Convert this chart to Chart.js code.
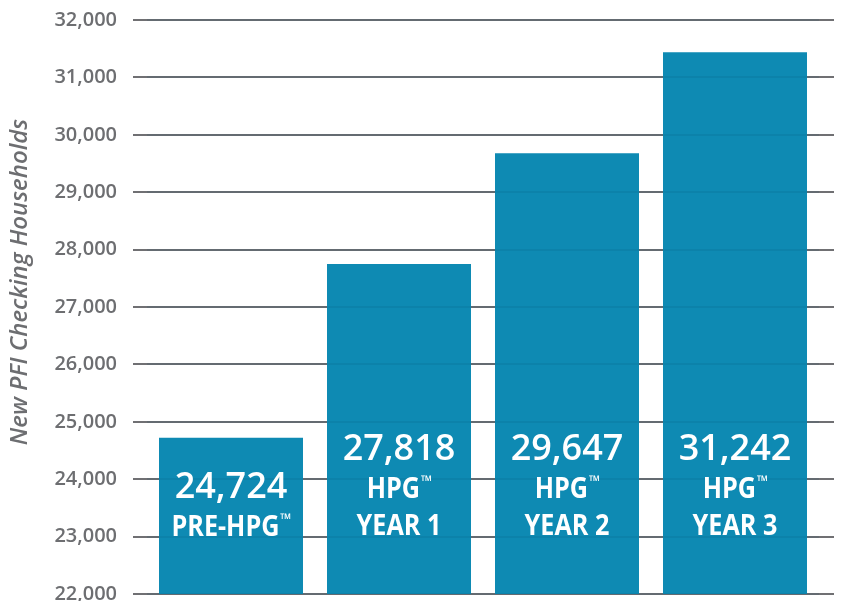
<!DOCTYPE html>
<html>
<head>
<meta charset="utf-8">
<script src="https://cdn.jsdelivr.net/npm/chart.js@4"></script>
<style>
  html, body { margin: 0; padding: 0; background: #fff; }
  #wrap { width: 841px; height: 601px; }
</style>
</head>
<body>
<div id="wrap"><canvas id="c" width="841" height="601"></canvas></div>
<script>
const categories = ['PRE-HPG™', 'HPG™ YEAR 1', 'HPG™ YEAR 2', 'HPG™ YEAR 3'];
const barValues = [24724, 27750, 29680, 31440];
const valueLabels = ['24,724', '27,818', '29,647', '31,242'];
const subLabels = [['PRE-HPG™'], ['HPG™', 'YEAR 1'], ['HPG™', 'YEAR 2'], ['HPG™', 'YEAR 3']];
const yMin = 22000, yMax = 32000, yStep = 1000;
const axisTitle = 'New PFI Checking Households';

const GRID = '#707073';
const TEXT = '#6d6e71';
const BAR = '#0e8ab3';

const gridPlugin = {
  id: 'gridExt',
  beforeDatasetsDraw(chart) {
    const { ctx, chartArea, scales: { y } } = chart;
    ctx.save();
    ctx.strokeStyle = GRID;
    ctx.lineWidth = 2;
    y.ticks.forEach(t => {
      const py = Math.round(y.getPixelForValue(t.value));
      ctx.beginPath();
      ctx.moveTo(chartArea.left - 14, py);
      ctx.lineTo(chartArea.right + 15, py);
      ctx.stroke();
    });
    ctx.restore();
  },
  afterDatasetsDraw(chart) {
    const { ctx, chartArea, scales: { y } } = chart;
    ctx.save();
    ctx.strokeStyle = 'rgba(0,70,100,0.10)';
    ctx.lineWidth = 2;
    y.ticks.forEach(t => {
      const py = Math.round(y.getPixelForValue(t.value));
      ctx.beginPath();
      ctx.moveTo(chartArea.left, py);
      ctx.lineTo(chartArea.right, py);
      ctx.stroke();
    });
    // labels inside bars
    const meta = chart.getDatasetMeta(0);
    ctx.fillStyle = '#ffffff';
    ctx.textAlign = 'center';
    ctx.textBaseline = 'middle';
    meta.data.forEach((bar, i) => {
      const x = bar.x;
      const bottom = chartArea.bottom;
      const single = subLabels[i].length === 1;
      const numY = single ? bottom - 106 : bottom - 144;
      ctx.font = '600 36px "Open Sans"';
      ctx.fillText(valueLabels[i], x, numY);
      subLabels[i].forEach((s, k) => {
        const ly = numY + 40 + k * 37;
        ctx.save();
        ctx.translate(x, ly);
        ctx.scale(0.9, 1);
        ctx.font = '700 28px "Open Sans"';
        drawTM(ctx, s);
        ctx.restore();
      });
    });
    ctx.restore();
  },
  afterDraw(chart) {
    const { ctx } = chart;
    ctx.save();
    ctx.fillStyle = TEXT;
    ctx.font = 'italic 600 24px "Open Sans"';
    ctx.textAlign = 'center';
    ctx.textBaseline = 'middle';
    ctx.translate(20, 282);
    ctx.rotate(-Math.PI / 2);
    ctx.fillText(axisTitle, 0, 0);
    ctx.restore();
  }
};

function drawTM(ctx, s) {
  // draw text with a smaller superscript ™
  const idx = s.indexOf('™');
  if (idx < 0) { ctx.fillText(s, 0, 0); return; }
  const main = s.slice(0, idx);
  const mainFont = ctx.font;
  const tmFont = '700 16px "Open Sans"';
  const wMain = ctx.measureText(main).width;
  ctx.font = tmFont;
  const wTm = ctx.measureText('™').width;
  const total = wMain + wTm;
  ctx.font = mainFont;
  ctx.textAlign = 'left';
  ctx.fillText(main, -total / 2, 0);
  ctx.font = tmFont;
  ctx.fillText('™', -total / 2 + wMain + 1, -8);
  ctx.font = mainFont;
  ctx.textAlign = 'center';
}

new Chart(document.getElementById('c'), {
  type: 'bar',
  data: {
    labels: categories,
    datasets: [{
      data: barValues,
      backgroundColor: BAR,
      borderWidth: 0,
      categoryPercentage: 1,
      barPercentage: 144 / 168
    }]
  },
  options: {
    responsive: false,
    animation: false,
    events: [],
    layout: { padding: { top: 20, bottom: 7, left: 0, right: 22 } },
    plugins: { legend: { display: false }, tooltip: { enabled: false } },
    scales: {
      x: { display: false },
      y: {
        min: yMin, max: yMax,
        border: { display: false },
        grid: { display: false, drawTicks: false },
        ticks: {
          stepSize: yStep,
          padding: 30,
          color: TEXT,
          font: { family: '"Open Sans"', size: 20, weight: '600' },
          callback: v => v.toLocaleString('en-US')
        },
        afterFit(scale) {
          scale.width = 147;
          scale.paddingTop = 0;
          scale.paddingBottom = 0;
        }
      }
    }
  },
  plugins: [gridPlugin]
});
</script>
</body>
</html>
